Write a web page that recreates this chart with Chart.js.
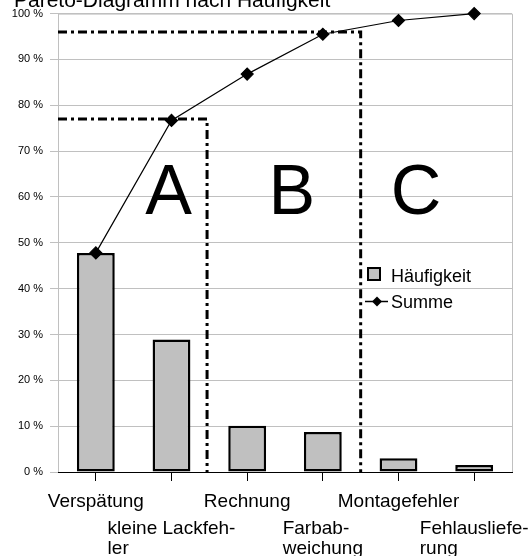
<!DOCTYPE html>
<html>
<head>
  <meta charset="utf-8" />
  <title>Pareto-Diagramm nach Häufigkeit</title>
  <script src="https://cdn.jsdelivr.net/npm/chart.js"></script>
  <style>
    html, body { margin: 0; padding: 0; background: #fff; }
    .wrap { position: relative; width: 531px; height: 556px; }
  </style>
</head>
<body>
  <div class="wrap"><canvas id="pareto"></canvas></div>

  <script>
    const chartTitle = 'Pareto-Diagramm nach Häufigkeit';
    // each label is split into its wrapped lines
    const categories = [
      ['Verspätung'],
      ['kleine Lackfeh-', 'ler'],
      ['Rechnung'],
      ['Farbab-', 'weichung'],
      ['Montagefehler'],
      ['Fehlausliefe-', 'rung']
    ];
    const frequency = [47.8, 28.9, 10.1, 8.7, 3.0, 1.5];   // % share per category
    const cumulative = [47.8, 76.7, 86.8, 95.5, 98.5, 100]; // running total in %
    const seriesNames = ['Häufigkeit', 'Summe'];
    const zoneNames = ['A', 'B', 'C'];
    const zoneLimits = [77, 96]; // cumulative % where A ends and B ends

    const FONT = "'Liberation Sans', Arial, sans-serif";
    const GRAY = '#c0c0c0';

    // where the zone cut lines and the zone letters sit (in category units)
    const cutAt = [1.47, 3.5];
    const letterAt = [0.96, 2.59, 4.23];
    const letterLevel = 56.2;

    const paretoDecor = {
      id: 'paretoDecor',
      beforeDatasetsDraw(chart) {
        const { ctx, chartArea: a, scales: { x, y } } = chart;
        ctx.save();

        // grey frame on top and right
        ctx.strokeStyle = GRAY;
        ctx.lineWidth = 1;
        ctx.beginPath();
        ctx.moveTo(a.left, a.top + 0.5);
        ctx.lineTo(a.right + 0.5, a.top + 0.5);
        ctx.lineTo(a.right + 0.5, a.bottom);
        ctx.stroke();

        // black baseline
        const y0 = y.getPixelForValue(0);
        ctx.strokeStyle = '#000';
        ctx.beginPath();
        ctx.moveTo(a.left, y0 + 0.5);
        ctx.lineTo(a.right, y0 + 0.5);
        ctx.stroke();

        // dash-dot cut lines for the A / B zones
        ctx.lineWidth = 3;
        ctx.setLineDash([9, 4, 3, 4]);
        zoneLimits.forEach((lvl, i) => {
          const cx = x.getPixelForValue(cutAt[i]);
          const cy = y.getPixelForValue(lvl);
          ctx.beginPath();
          ctx.moveTo(a.left, cy);
          ctx.lineTo(cx, cy);
          ctx.lineTo(cx, y0);
          ctx.stroke();
        });
        ctx.setLineDash([]);

        // big zone letters
        ctx.fillStyle = '#000';
        ctx.font = `70px ${FONT}`;
        ctx.textAlign = 'center';
        ctx.textBaseline = 'alphabetic';
        zoneNames.forEach((n, i) => {
          ctx.fillText(n, x.getPixelForValue(letterAt[i]), y.getPixelForValue(letterLevel));
        });
        ctx.restore();
      },
      afterDraw(chart) {
        const { ctx, scales: { x } } = chart;
        ctx.save();
        ctx.fillStyle = '#000';
        ctx.textBaseline = 'alphabetic';
        ctx.textAlign = 'left';

        // title, partly cut off at the top edge
        ctx.font = `21px ${FONT}`;
        ctx.fillText(chartTitle, 14, 7);

        // category labels, staggered on two rows, lines left aligned in a centred block
        ctx.font = `19px ${FONT}`;
        categories.forEach((lines, i) => {
          const cx = x.getPixelForValue(i);
          const w = Math.max(...lines.map(l => ctx.measureText(l).width));
          const base = i % 2 === 0 ? 507 : 533.5;
          lines.forEach((l, j) => ctx.fillText(l, cx - w / 2, base + j * 20.5));
        });

        // legend inside the plot
        ctx.fillStyle = GRAY;
        ctx.fillRect(368, 268, 12, 12);
        ctx.strokeStyle = '#000';
        ctx.lineWidth = 2;
        ctx.strokeRect(368, 268, 12, 12);

        ctx.lineWidth = 1.5;
        ctx.beginPath();
        ctx.moveTo(365, 301.5);
        ctx.lineTo(388, 301.5);
        ctx.stroke();
        ctx.fillStyle = '#000';
        ctx.beginPath();
        ctx.moveTo(377, 296.5);
        ctx.lineTo(382, 301.5);
        ctx.lineTo(377, 306.5);
        ctx.lineTo(372, 301.5);
        ctx.closePath();
        ctx.fill();

        ctx.font = `18px ${FONT}`;
        ctx.fillText(seriesNames[0], 391, 282);
        ctx.fillText(seriesNames[1], 391, 308);
        ctx.restore();
      }
    };

    new Chart(document.getElementById('pareto'), {
      type: 'bar',
      data: {
        labels: categories.map(c => c.join(' ')),
        datasets: [
          {
            type: 'line',
            label: seriesNames[1],
            data: cumulative,
            borderColor: '#000',
            borderWidth: 1.2,
            pointStyle: 'rectRot',
            pointRadius: 6,
            pointBackgroundColor: '#000',
            pointBorderColor: '#000',
            tension: 0,
            clip: false,
            order: 0
          },
          {
            label: seriesNames[0],
            data: frequency,
            backgroundColor: GRAY,
            borderColor: '#000',
            borderWidth: 2.5,
            borderSkipped: false,
            barPercentage: 0.5,
            categoryPercentage: 1,
            order: 1
          }
        ]
      },
      options: {
        responsive: true,
        maintainAspectRatio: false,
        animation: false,
        layout: { padding: { top: 12, right: 19, left: 0, bottom: 0 } },
        plugins: {
          legend: { display: false },
          tooltip: { enabled: false }
        },
        scales: {
          x: {
            offset: true,
            grid: { offset: false, drawOnChartArea: false, drawTicks: true, tickLength: 9, color: '#000' },
            border: { color: '#000' },
            ticks: { display: false },
            afterFit(s) { s.height = 84; }
          },
          y: {
            min: 0,
            max: 100,
            grid: { color: GRAY, tickLength: 8 },
            border: { color: GRAY },
            ticks: {
              stepSize: 10,
              padding: 7,
              color: '#000',
              font: { family: FONT, size: 11 },
              callback: v => v + ' %'
            },
            afterFit(s) { s.width = 58; }
          }
        }
      },
      plugins: [paretoDecor]
    });
  </script>
</body>
</html>
